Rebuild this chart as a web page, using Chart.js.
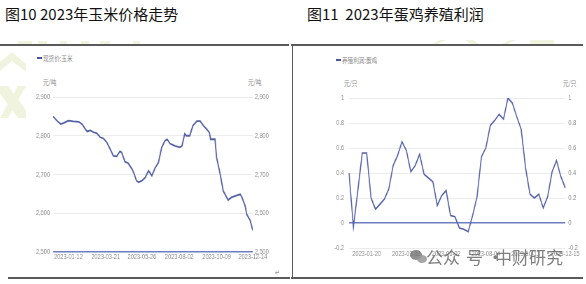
<!DOCTYPE html>
<html>
<head>
<meta charset="utf-8">
<script src="https://cdn.jsdelivr.net/npm/chart.js@4/dist/chart.umd.min.js"></script>
<style>
  html, body { margin: 0; padding: 0; }
  body { width: 586px; height: 284px; background: #fff; position: relative; overflow: hidden;
         font-family: "Noto Sans CJK SC", "Noto Sans", sans-serif; }
  .abs { position: absolute; white-space: nowrap; }
  .title { font-size: 15px; line-height: 18px; color: #111; top: 5px; }
  .small { font-size: 7px; line-height: 8px; color: #8a8a8a; transform-origin: 0 50%; transform: scaleX(0.8); }
  .rule { position: absolute; background: #5a5a5a; }
  .key { position: absolute; width: 5px; height: 2px; background: #4a559a; }
  /* the plots are drawn wide and narrowed, giving the condensed axis lettering */
  canvas { position: absolute; transform-origin: 0 0; transform: scaleX(0.7); }
  .wm { font-size: 17px; line-height: 18px; color: rgba(105,105,105,0.85); }
</style>
</head>
<body>
<!-- faint logo marks behind the panels -->
<svg class="abs" style="left:0;top:0" width="586" height="284">
  <g fill="#f0f4df">
    <polygon points="0,62 12,52 26,64 26,72 12,61 0,71"/>
    <polygon points="0,86 8,86 26,110 26,118 18,118 0,94"/>
    <polygon points="18,86 26,86 8,118 0,118"/>
    <rect x="18" y="41" width="14" height="4"/>
    <rect x="38" y="41" width="9" height="4"/>
    <rect x="60" y="41" width="7" height="4"/>
    <rect x="81" y="41" width="8" height="4"/>
    <rect x="100" y="41" width="10" height="4"/>
    <rect x="133" y="41" width="7" height="4"/>
    <polygon points="430,45 440,40 446,40 436,45"/>
    <polygon points="465,40 473,40 480,45 472,45"/>
    <polygon points="500,45 510,40 516,40 506,45"/>
    <rect x="530" y="40" width="24" height="4"/>
  </g>
</svg>

<div class="abs title" style="left:5px;">图10 2023年玉米价格走势</div>
<div class="abs title" style="left:307px;">图11&nbsp; 2023年蛋鸡养殖利润</div>

<div class="rule" style="left:0;top:44px;width:289px;height:1.5px;"></div>
<div class="rule" style="left:291px;top:44px;width:292px;height:1.5px;"></div>
<div class="rule" style="left:292px;top:44px;width:1px;height:234px;"></div>
<div class="rule" style="left:8px;top:277px;width:282px;height:1.5px;"></div>
<div class="rule" style="left:291px;top:277px;width:292px;height:1.5px;"></div>

<div class="key" style="left:37px;top:57px;"></div>
<div class="abs small" style="left:43px;top:54px;">现货价:玉米</div>
<div class="abs small" style="left:43px;top:78px;">元/吨</div>
<div class="abs small" style="left:248px;top:78px;">元/吨</div>

<div class="key" style="left:336px;top:59px;"></div>
<div class="abs small" style="left:342px;top:56px;">养殖利润:蛋鸡</div>
<div class="abs small" style="left:344px;top:79px;">元/只</div>
<div class="abs small" style="left:563px;top:79px;">元/只</div>

<canvas id="corn" width="414" height="205" style="left:0;top:60px;"></canvas>
<canvas id="profit" width="419" height="205" style="left:293px;top:60px;"></canvas>

<div class="abs small" style="left:275px;top:268px;color:#777;">↵</div>

<!-- account mark over the lower right corner -->
<div class="abs" style="left:410px;top:250px;width:12px;height:10px;border-radius:50%;background:rgba(115,115,115,0.8);"></div>
<div class="abs" style="left:417px;top:255px;width:10px;height:8px;border-radius:50%;background:rgba(150,150,150,0.85);"></div>
<div class="abs wm" style="left:426px;top:248px;">公众</div>
<div class="abs wm" style="left:466px;top:248px;">号 · </div>
<div class="abs wm" style="left:495px;top:248px;">中财研究</div>

<script>
// Corn spot price (yuan/ton)
const cornTicks = ['2023-01-12', '2023-03-21', '2023-05-26', '2023-08-02', '2023-10-09', '2023-12-14'];
const cornDates = [
  '2022-12-15', '2022-12-22', '2022-12-29', '2023-01-04', '2023-01-12', '2023-01-21',
  '2023-01-31', '2023-02-06', '2023-02-12', '2023-02-15', '2023-02-21', '2023-02-27',
  '2023-03-05', '2023-03-11', '2023-03-17', '2023-03-23', '2023-03-29', '2023-04-04',
  '2023-04-10', '2023-04-16', '2023-04-19', '2023-04-25', '2023-05-01', '2023-05-08',
  '2023-05-12', '2023-05-16', '2023-05-20', '2023-05-26', '2023-06-01', '2023-06-07',
  '2023-06-13', '2023-06-19', '2023-06-25', '2023-07-01', '2023-07-07', '2023-07-11',
  '2023-07-16', '2023-07-25', '2023-08-03', '2023-08-07', '2023-08-12', '2023-08-15',
  '2023-08-21', '2023-08-27', '2023-09-03', '2023-09-09', '2023-09-15', '2023-09-21',
  '2023-09-26', '2023-09-28', '2023-10-06', '2023-10-09', '2023-10-15', '2023-10-21',
  '2023-10-30', '2023-11-05', '2023-11-15', '2023-11-21', '2023-11-24', '2023-11-30',
  '2023-12-03', '2023-12-09', '2023-12-14'
];
const cornPrices = [
  2850, 2839, 2830, 2833, 2839, 2837,
  2836, 2830, 2817, 2811, 2814, 2809,
  2806, 2796, 2793, 2783, 2766, 2748,
  2747, 2760, 2757, 2733, 2729, 2714,
  2701, 2684, 2680, 2684, 2692, 2710,
  2697, 2717, 2731, 2770, 2787, 2791,
  2780, 2774, 2770, 2774, 2805, 2800,
  2800, 2826, 2838, 2838, 2826, 2817,
  2808, 2791, 2791, 2744, 2705, 2658,
  2634, 2641, 2646, 2649, 2642, 2619,
  2597, 2582, 2556
];

// Layer hen farming profit (yuan/bird), weekly
const profitTicks = ['2023-01-20', '2023-03-31', '2023-06-02', '2023-08-04', '2023-10-13', '2023-12-15'];
const profitDates = [
  '2022-12-23', '2022-12-30', '2023-01-06', '2023-01-13', '2023-01-20', '2023-02-03',
  '2023-02-10', '2023-02-17', '2023-02-24', '2023-03-03', '2023-03-10', '2023-03-17',
  '2023-03-24', '2023-03-31', '2023-04-07', '2023-04-14', '2023-04-21', '2023-04-28',
  '2023-05-05', '2023-05-12', '2023-05-19', '2023-05-26', '2023-06-02', '2023-06-09',
  '2023-06-16', '2023-06-23', '2023-06-30', '2023-07-07', '2023-07-14', '2023-07-21',
  '2023-07-28', '2023-08-04', '2023-08-11', '2023-08-18', '2023-08-25', '2023-09-01',
  '2023-09-08', '2023-09-15', '2023-09-22', '2023-09-29', '2023-10-13', '2023-10-20',
  '2023-10-27', '2023-11-03', '2023-11-10', '2023-11-17', '2023-11-24', '2023-12-01',
  '2023-12-08', '2023-12-15'
];
const profitValues = [
  0.40, -0.03, 0.26, 0.56, 0.56, 0.20,
  0.11, 0.15, 0.19, 0.27, 0.46, 0.54,
  0.65, 0.58, 0.41, 0.46, 0.55, 0.39,
  0.36, 0.33, 0.14, 0.22, 0.26, 0.06,
  0.05, -0.04, -0.05, -0.07, 0.06, 0.21,
  0.53, 0.60, 0.78, 0.82, 0.87, 0.83,
  1.00, 0.96, 0.85, 0.75, 0.44, 0.23,
  0.20, 0.23, 0.12, 0.21, 0.41, 0.50,
  0.37, 0.28
];

const SX = 0.7;               // horizontal narrowing applied to both canvases
const w = px => px / SX;      // on-page width -> canvas width
const LINE = '#5662a8';
const AXIS = '#6f7cc0';
const GRID = '#ececec';
const TICK = '#8a8a8a';
const tickFont = { family: '"Liberation Sans", Arial, sans-serif', size: 8 };

const common = {
  responsive: false,
  animation: false,
  devicePixelRatio: 1,
  plugins: { legend: { display: false }, tooltip: { enabled: false } }
};

new Chart(document.getElementById('corn'), {
  type: 'line',
  data: {
    datasets: [{
      data: cornDates.map((d, i) => ({ x: Date.parse(d), y: cornPrices[i] })),
      borderColor: LINE, borderWidth: 1.8, pointRadius: 0, tension: 0, yAxisID: 'y'
    }]
  },
  options: {
    ...common,
    layout: { padding: { top: 37, left: 0, right: 0, bottom: 0 } },
    scales: {
      x: {
        type: 'linear',
        min: Date.parse(cornDates[0]),
        max: Date.parse(cornDates[cornDates.length - 1]),
        afterBuildTicks: s => { s.ticks = cornTicks.map(d => ({ value: Date.parse(d) })); },
        afterFit: s => { s.height = 13; },
        grid: { display: false, drawTicks: false },
        border: { display: false },
        ticks: {
          autoSkip: false, maxRotation: 0, padding: 0, color: TICK, font: tickFont,
          callback: v => new Date(v).toISOString().slice(0, 10)
        }
      },
      y: {
        position: 'left', min: 2500, max: 2900,
        afterFit: s => { s.width = w(53); },
        grid: {
          drawTicks: false,
          color: c => (c.tick && c.tick.value === 2500) ? AXIS : GRID,
          lineWidth: c => (c.tick && c.tick.value === 2500) ? 1.5 : 1
        },
        border: { display: false },
        ticks: { stepSize: 100, padding: w(3), color: TICK, font: tickFont,
                 callback: v => v.toLocaleString('en-US') }
      },
      y2: {
        position: 'right', min: 2500, max: 2900,
        afterFit: s => { s.width = w(37); },
        grid: { display: false, drawTicks: false },
        border: { display: false },
        ticks: { stepSize: 100, padding: w(2), color: TICK, font: tickFont,
                 callback: v => v.toLocaleString('en-US') }
      }
    }
  }
});

new Chart(document.getElementById('profit'), {
  type: 'line',
  data: {
    labels: profitDates,
    datasets: [{
      data: profitValues,
      borderColor: LINE, borderWidth: 1.6, pointRadius: 0, tension: 0, yAxisID: 'y'
    }]
  },
  options: {
    ...common,
    layout: { padding: { top: 38, left: 0, right: 0, bottom: 0 } },
    scales: {
      x: {
        afterFit: s => { s.height = 17; },
        grid: { display: false, drawTicks: false },
        border: { display: false },
        ticks: {
          autoSkip: false, maxRotation: 0, padding: 1, color: TICK, font: tickFont,
          callback: function (v) {
            const label = this.getLabelForValue(v);
            return profitTicks.includes(label) ? label : null;
          }
        }
      },
      y: {
        position: 'left', min: -0.2, max: 1,
        afterFit: s => { s.width = w(56); },
        grid: {
          drawTicks: false,
          color: c => (c.tick && Math.abs(c.tick.value) < 1e-9) ? AXIS : GRID,
          lineWidth: c => (c.tick && Math.abs(c.tick.value) < 1e-9) ? 1.5 : 1
        },
        border: { display: false },
        ticks: { stepSize: 0.2, padding: w(5), color: TICK, font: tickFont,
                 callback: v => String(parseFloat(v.toFixed(1))) }
      },
      y2: {
        position: 'right', min: -0.2, max: 1,
        afterFit: s => { s.width = w(21); },
        grid: { display: false, drawTicks: false },
        border: { display: false },
        ticks: { stepSize: 0.2, padding: w(3), color: TICK, font: tickFont,
                 callback: v => String(parseFloat(v.toFixed(1))) }
      }
    }
  }
});
</script>
</body>
</html>
